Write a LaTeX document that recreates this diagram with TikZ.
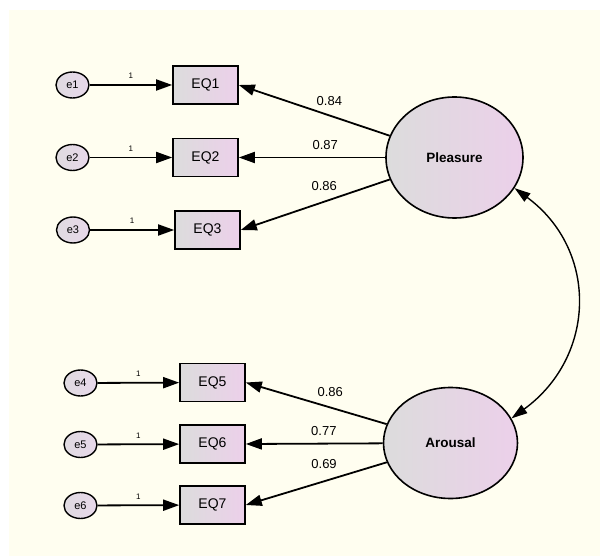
\documentclass[tikz,border=0pt]{standalone}
\usepackage{fontspec}
\setmainfont{Liberation Sans}
\usetikzlibrary{arrows.meta,shapes.geometric}
\definecolor{bg}{RGB}{255,254,240}
\definecolor{lgray}{RGB}{220,220,220}
\definecolor{lpink}{RGB}{236,208,234}
\definecolor{epink}{RGB}{232,216,234}
\begin{document}
\begin{tikzpicture}[x=1pt,y=-1pt,
 obs/.style={draw, line width=1.6pt, minimum width=65pt, minimum height=38pt, inner sep=0pt, left color=lgray, right color=lpink, font=\fontsize{14}{16}\selectfont},
 err/.style={draw, ellipse, line width=1.4pt, minimum width=33pt, minimum height=26pt, inner sep=0pt, left color=lgray!70!epink, right color=epink, font=\fontsize{11}{13}\selectfont},
 lat/.style={draw, ellipse, line width=1.6pt, inner sep=0pt, left color=lgray, right color=lpink, font=\bfseries\fontsize{13.5}{15}\selectfont},
 arr/.style={line width=1.8pt, -{Triangle[length=16pt,width=11pt]}},
 one/.style={font=\fontsize{8}{9}\selectfont},
 lbl/.style={font=\fontsize{13}{15}\selectfont}
]
\useasboundingbox (0,0) rectangle (600,556);
\fill[bg] (9,10) rectangle (600,556);

% upper block
\node[err] (e1) at (72.5,85) {e1};
\node[err] (e2) at (72.5,157.5) {e2};
\node[err] (e3) at (73,230) {e3};
\node[obs] (q1) at (205.5,85) {EQ1};
\node[obs] (q2) at (205.5,157.5) {EQ2};
\node[obs] (q3) at (207.5,230) {EQ3};
\node[lat, minimum width=137pt, minimum height=121pt] (P) at (454.5,157.5) {Pleasure};

% lower block
\node[err] (e4) at (80.5,383) {e4};
\node[err] (e5) at (80.5,444.5) {e5};
\node[err] (e6) at (80.5,505.5) {e6};
\node[obs] (q5) at (212.5,382.5) {EQ5};
\node[obs] (q6) at (212.5,444) {EQ6};
\node[obs] (q7) at (212.5,505) {EQ7};
\node[lat, minimum width=134pt, minimum height=111pt] (A) at (450.5,443) {Arousal};

% error paths
\draw[arr] (e1) -- node[one, midway, above=2pt] {1} (q1);
\draw[arr] (e2) -- node[one, midway, above=2pt] {1} (q2);
\draw[arr] (e3) -- node[one, midway, above=2pt] {1} (q3);
\draw[arr] (e4) -- node[one, midway, above=2pt] {1} (q5);
\draw[arr] (e5) -- node[one, midway, above=2pt] {1} (q6);
\draw[arr] (e6) -- node[one, midway, above=2pt] {1} (q7);

% loadings
\draw[arr] (P) -- node[lbl, pos=0.4, above=6pt] {0.84} (q1.east);
\draw[arr] (P) -- node[lbl, pos=0.41, above=4pt] {0.87} (q2.east);
\draw[arr] (P) -- node[lbl, pos=0.44, above=7pt] {0.86} (q3.east);
\draw[arr] (A) -- node[lbl, pos=0.4, above=7pt] {0.86} (q5.east);
\draw[arr] (A) -- node[lbl, pos=0.43, above=4pt] {0.77} (q6.east);
\draw[arr] (A) -- node[lbl, pos=0.445, above=8pt] {0.69} (q7.east);

% covariance
\draw[line width=1.4pt, {Triangle[length=16pt,width=10pt]}-{Triangle[length=16pt,width=10pt]}]
  (P.-27) .. controls +(84,62) and +(85,-62) .. (A.22);
\end{tikzpicture}
\end{document}
